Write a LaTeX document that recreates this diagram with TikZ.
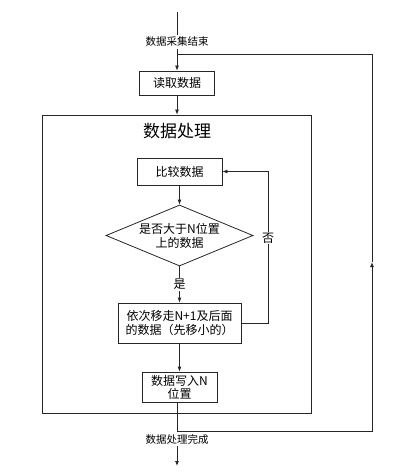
\documentclass[tikz,border=0pt]{standalone}
\usepackage{fontspec}
\newfontfamily\cjk{Noto Sans CJK SC}
\usetikzlibrary{shapes.geometric,arrows.meta,positioning}
\begin{document}
\begin{tikzpicture}[x=1pt, y=-1pt, >={Latex[length=5pt,width=4pt]}, line width=0.8pt, draw=black!85,
  font=\cjk\fontsize{12}{14}\selectfont,
  box/.style={draw=black!85, align=center, inner sep=2pt, fill=white},
  lbl/.style={fill=white, inner sep=1pt},
  small/.style={font=\cjk\fontsize{10.5}{12}\selectfont, fill=white, inner sep=1.5pt}]
\useasboundingbox (0,0) rectangle (409,476);
% frame of the processing stage
\node[draw=black!85, minimum width=269pt, minimum height=298pt] (proc) at (176.5,264) {};
\node[font=\cjk\fontsize{17}{20}\selectfont] (title) at (177,131) {数据处理};
% nodes
\node[small] (begin) at (177,42) {数据采集结束};
\node[box, minimum width=75pt, minimum height=24pt] (read) at (177,83) {读取数据};
\node[box, minimum width=85pt, minimum height=27pt] (cmp) at (179.5,171.5) {比较数据};
\node[diamond, draw=black!85, aspect=2.4, inner sep=0pt, minimum width=147pt, minimum height=61pt, align=center] (judge) at (179.5,235.5) {是否大于N位置\\上的数据};
\node[box, minimum width=123pt, minimum height=40pt] (move) at (179.5,323) {依次移走N+1及后面\\的数据（先移小的）};
\node[box, inner sep=1pt, minimum width=75pt, minimum height=30pt, font=\cjk\fontsize{12}{13}\selectfont] (write) at (179.5,387) {数据写入N\\位置};
\node[small] (finish) at (177,439) {数据处理完成};
% turning points
\coordinate (top) at (177,12);
\coordinate (end) at (177,466);
\coordinate (join) at (177,54);
\coordinate (tr) at (372,54);
\coordinate (mid) at (372,262);
\coordinate (br) at (372,431);
\coordinate (bl) at (177,431);
\coordinate (back) at (268,0);
% connectors
\draw (top) -- (begin);
\draw[->] (begin) -- (read);
\draw[->] (read) -- (proc.north -| read);
\draw[->] (cmp) -- (judge);
\draw[->] (judge) -- node[lbl] {是} (move);
\draw[->] (move.east) -- (move.east -| back) |- node[lbl, pos=0.28] {否} (cmp.east);
\draw[->] (move) -- (write);
\draw (write.south -| bl) -- (finish);
\draw[->] (finish) -- (end);
\draw[->] (bl) -- (br) -- (mid);
\draw (mid) -- (tr) -- (join);
\end{tikzpicture}
\end{document}
